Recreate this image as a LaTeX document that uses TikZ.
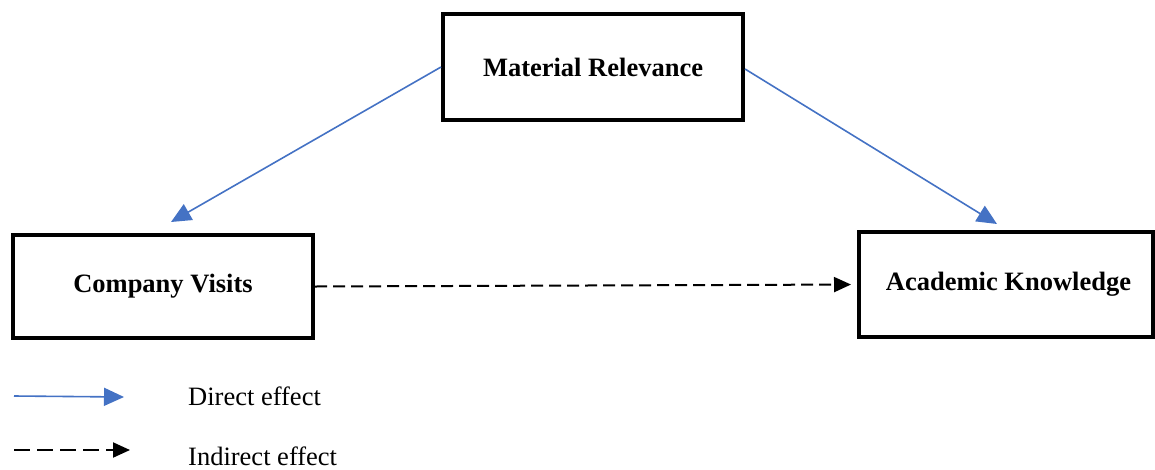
\documentclass[tikz,border=0pt]{standalone}
\usepackage{fontspec}
\setmainfont{Liberation Serif}
\usetikzlibrary{arrows.meta}
\definecolor{arrowblue}{HTML}{4472C4}
\tikzset{
  box/.style={draw=black, line width=4pt, rectangle, inner sep=0pt, font=\fontsize{26.5}{30}\selectfont\bfseries},
  direct/.style={draw=arrowblue, line width=1.6pt, -{Triangle[length=20pt,width=18pt]}},
  indirect/.style={draw=black, line width=2pt, dash pattern=on 12pt off 6pt, -{Triangle[length=17pt,width=15pt]}},
  legendtext/.style={anchor=base west, inner sep=0pt, font=\fontsize{26.5}{30}\selectfont}
}
\begin{document}
\begin{tikzpicture}[x=1pt,y=-1pt]
\useasboundingbox (0,0) rectangle (1155,469);
\node[box, minimum width=300pt, minimum height=106pt] (MR) at (593,67) {Material Relevance};
\node[box, minimum width=300pt, minimum height=103pt] (CV) at (163,286.5) {Company Visits};
\node[box, minimum width=294pt, minimum height=105pt] (AK) at (1006,284.5) {\hspace*{5pt}Academic Knowledge};
\coordinate (cvtip) at (171,222);
\coordinate (aktip) at (997,224);
\draw[direct] (MR.west) -- (cvtip);
\draw[direct] ([yshift=-2pt]MR.east) -- (aktip);
\draw[indirect, shorten >=6pt] (CV.east) -- (AK.west);
% legend
\coordinate (l1a) at (14,396);
\coordinate (l1b) at (124,397);
\coordinate (l2a) at (14,450);
\coordinate (l2b) at (130,450);
\draw[direct] (l1a) -- (l1b);
\draw[indirect, dash pattern=on 16pt off 7pt] (l2a) -- (l2b);
\node[legendtext] (dtext) at (188,405) {Direct effect};
\node[legendtext] (itext) at (188,465) {Indirect effect};
\end{tikzpicture}
\end{document}
